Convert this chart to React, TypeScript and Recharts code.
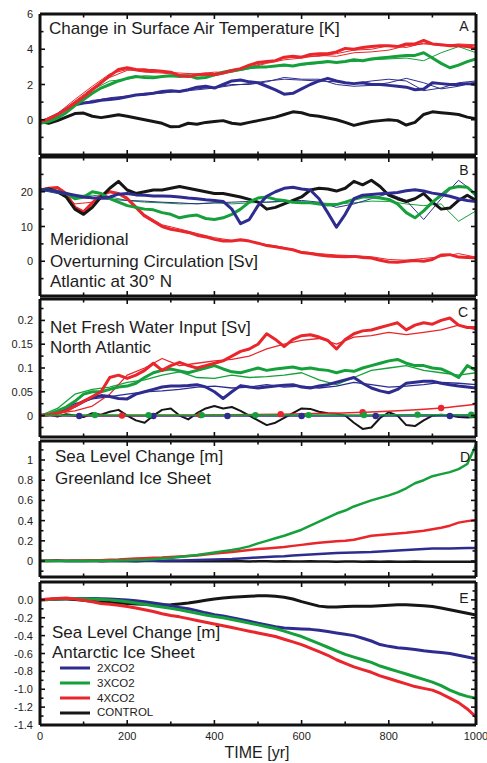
import React from 'react';
import { LineChart, Line, XAxis, YAxis, Legend } from 'recharts';

// ---------- categories / tick labels ----------
const TIME = [0, 20, 40, 60, 80, 100, 120, 140, 160, 180, 200, 220, 240, 260, 280, 300, 320, 340, 360, 380, 400, 420, 440, 460, 480, 500, 520, 540, 560, 580, 600, 620, 640, 660, 680, 700, 720, 740, 760, 780, 800, 820, 840, 860, 880, 900, 920, 940, 960, 980, 1000];
const TIME_THIN = [0, 40, 80, 120, 160, 200, 240, 280, 320, 360, 400, 440, 480, 520, 560, 600, 640, 680, 720, 760, 800, 840, 880, 920, 960, 1000];
const X_TICKS = [0, 100, 200, 300, 400, 500, 600, 700, 800, 900, 1000];
const X_LABELS = [0, 200, 400, 600, 800, 1000];
const SERIES_NAMES = ['2XCO2', '3XCO2', '4XCO2', 'CONTROL'];

// ---------- Panel A: surface air temperature [K] ----------
const A_BLACK = [-0.1, -0.2, -0.05, 0.15, 0.35, 0.38, 0.2, 0.12, 0.2, 0.28, 0.2, 0.1, 0.0, -0.1, -0.2, -0.4, -0.38, -0.2, -0.25, -0.15, -0.1, -0.05, -0.2, -0.25, -0.15, -0.05, 0.05, 0.15, 0.3, 0.45, 0.4, 0.25, 0.2, 0.1, 0.0, -0.15, -0.32, -0.2, -0.1, -0.05, 0.0, -0.05, -0.3, -0.15, 0.3, 0.45, 0.4, 0.35, 0.3, 0.15, 0.05];
const A_RED = [-0.1, 0.05, 0.3, 0.6, 0.95, 1.3, 1.7, 2.1, 2.5, 2.85, 2.95, 2.85, 2.8, 2.8, 2.75, 2.7, 2.5, 2.45, 2.55, 2.6, 2.55, 2.65, 2.8, 2.9, 3.1, 3.25, 3.3, 3.35, 3.55, 3.6, 3.55, 3.7, 3.75, 3.75, 3.85, 4.05, 4.0, 4.1, 4.15, 4.2, 4.2, 4.15, 4.3, 4.3, 4.5, 4.3, 4.25, 4.2, 4.2, 4.15, 4.05];
const A_GREEN = [-0.2, -0.1, 0.1, 0.4, 0.8, 1.15, 1.5, 1.8, 2.0, 2.2, 2.35, 2.45, 2.4, 2.38, 2.45, 2.5, 2.45, 2.5, 2.35, 2.4, 2.55, 2.7, 2.8, 2.85, 2.95, 3.0, 3.0, 3.05, 3.1, 3.05, 3.15, 3.2, 3.25, 3.3, 3.25, 3.3, 3.4, 3.35, 3.45, 3.5, 3.55, 3.6, 3.65, 3.65, 3.8, 3.5, 3.2, 2.95, 3.1, 3.3, 3.45];
const A_BLUE = [-0.1, 0.0, 0.3, 0.6, 0.85, 0.95, 1.0, 1.1, 1.15, 1.2, 1.3, 1.4, 1.45, 1.5, 1.6, 1.65, 1.6, 1.7, 1.85, 1.9, 1.8, 2.0, 2.2, 2.25, 2.15, 2.1, 1.9, 1.7, 1.45, 1.5, 1.75, 2.0, 2.2, 2.35, 2.2, 2.1, 2.05, 2.1, 2.0, 2.0, 1.95, 1.9, 1.85, 1.7, 1.75, 2.1, 2.05, 2.0, 2.0, 2.05, 2.0];
const A_RED_T1 = [-0.1, 0.35, 1.15, 1.9, 2.6, 2.85, 2.7, 2.65, 2.55, 2.5, 2.6, 2.75, 2.95, 3.2, 3.4, 3.5, 3.65, 3.6, 3.8, 3.85, 3.95, 4.2, 4.3, 4.25, 4.25, 4.2];
const A_RED_T2 = [-0.15, 0.3, 1.05, 1.8, 2.4, 2.8, 2.9, 2.7, 2.65, 2.6, 2.7, 2.7, 3.0, 3.25, 3.5, 3.6, 3.6, 3.75, 3.95, 4.0, 4.2, 4.1, 4.35, 4.2, 4.3, 4.25];
const A_GREEN_T = [-0.2, 0.2, 1.0, 1.7, 2.2, 2.3, 2.5, 2.45, 2.55, 2.5, 2.5, 2.7, 2.9, 3.0, 3.05, 3.1, 3.2, 3.3, 3.3, 3.4, 3.45, 3.5, 3.35, 3.8, 4.15, 3.8];
const A_BLUE_T1 = [-0.1, 0.35, 0.9, 1.05, 1.25, 1.35, 1.4, 1.55, 1.6, 1.7, 1.8, 1.95, 2.05, 2.2, 2.3, 2.25, 2.2, 2.15, 2.05, 2.2, 2.3, 2.2, 1.65, 1.8, 2.1, 2.2];
const A_BLUE_T2 = [-0.1, 0.3, 0.8, 1.1, 1.2, 1.3, 1.5, 1.5, 1.65, 1.75, 1.85, 2.0, 2.0, 2.15, 2.4, 2.3, 2.3, 2.0, 1.9, 1.95, 2.1, 2.35, 2.1, 1.75, 1.9, 2.15];

// ---------- Panel B: overturning circulation [Sv] ----------
const B_BLACK = [20.5, 20.8, 20, 18.5, 15, 13.5, 15.5, 18.5, 21, 23, 20.5, 19.5, 20, 20.5, 20.5, 21, 21.5, 21, 20.5, 20, 19.5, 19.5, 19, 18.5, 17.8, 17, 15, 15.5, 16.5, 17.5, 18.5, 20.5, 21, 20.8, 20.2, 21, 23, 22, 23.3, 21.5, 19, 18, 17.2, 18, 19.5, 17, 15, 15.3, 17.5, 19, 17.5];
const B_RED = [20.5, 21, 21.2, 19.5, 15.5, 14.2, 16.8, 19, 20, 19.5, 18, 15.5, 13, 11.5, 10, 9.2, 8.8, 8.3, 7.5, 7, 6.3, 5.8, 5.8, 6.2, 5.8, 5.2, 4.5, 4.2, 3.7, 3.3, 2.5, 2.2, 1.8, 1.5, 1.4, 1.3, 1.4, 1.1, 0.9, 0.3, -0.2, -0.3, 0, 0.2, 0.0, 0.5, 1.8, 1.9, 1.2, 1.1, 1.0];
const B_GREEN = [20.5, 20.5, 20, 19.5, 18, 18.5, 20, 19.5, 18, 17, 16, 15.5, 15, 14.8, 14, 13.5, 12.5, 13, 13.3, 12.3, 12, 12.5, 13.5, 15, 17, 18.2, 18.5, 17.8, 17.5, 17, 16.8, 16.8, 16.5, 16.2, 16.3, 17, 17.8, 18.5, 18.5, 18.2, 17.8, 16.5, 14, 12.5, 14.5, 17, 19, 21, 21.5, 21.3, 19];
const B_BLUE = [20.5, 20.5, 20, 19.5, 19, 18.5, 18.3, 18.2, 18.5, 19.3, 19.5, 19.1, 19, 18.8, 18.8, 18.7, 18.5, 18.2, 18, 17.7, 17.5, 17.2, 15, 10.8, 12, 16, 18.7, 20, 21, 21.3, 20.8, 20.5, 18, 14, 9.8, 13.5, 18, 19, 19.2, 19.4, 19.6, 19.8, 20.3, 20.6, 20.2, 19.6, 19.2, 18.7, 18, 17.5, 17.2];
const B_RED_T = [20.5, 21, 16.5, 17, 20.2, 18.5, 13.5, 10.5, 9.3, 8, 6.8, 6, 5.8, 4.8, 4, 2.8, 2.2, 1.8, 1.6, 1.3, 0.5, 0.3, 0.8, 1.3, 2.2, 1.2];
const B_GREEN_T = [20.5, 20.5, 19, 19, 18.5, 17.5, 17, 16.8, 16.5, 16.6, 16.8, 16.5, 16.8, 17, 17.2, 17, 16.8, 16.5, 16.8, 17.3, 17.2, 16.5, 16, 16.5, 11.5, 14.5];
const B_BLUE_T = [20.5, 19.5, 18.5, 18, 17.8, 17.5, 17.3, 17, 16.8, 16.5, 16.8, 17, 17.2, 17, 17.3, 17.5, 17, 15.5, 16.5, 18, 19.5, 17.5, 12, 18, 23.3, 19.5];

// ---------- Panel C: net fresh water input [Sv] ----------
const C_RED = [0, 0.002, 0.005, 0.01, 0.02, 0.03, 0.04, 0.05, 0.08, 0.085, 0.078, 0.085, 0.095, 0.11, 0.095, 0.105, 0.112, 0.105, 0.1, 0.105, 0.11, 0.115, 0.125, 0.135, 0.14, 0.15, 0.172, 0.16, 0.145, 0.16, 0.168, 0.17, 0.165, 0.158, 0.14, 0.16, 0.172, 0.178, 0.18, 0.185, 0.19, 0.195, 0.18, 0.19, 0.195, 0.192, 0.2, 0.205, 0.19, 0.185, 0.185];
const C_GREEN = [0, 0.003, 0.01, 0.018, 0.03, 0.045, 0.05, 0.05, 0.055, 0.06, 0.062, 0.068, 0.08, 0.09, 0.095, 0.098, 0.094, 0.09, 0.095, 0.1, 0.105, 0.098, 0.092, 0.09, 0.095, 0.1, 0.095, 0.098, 0.1, 0.102, 0.098, 0.1, 0.097, 0.095, 0.09, 0.095, 0.093, 0.1, 0.105, 0.11, 0.115, 0.118, 0.11, 0.105, 0.105, 0.1, 0.098, 0.09, 0.08, 0.105, 0.095];
const C_BLUE = [0, 0.002, 0.005, 0.012, 0.02, 0.03, 0.038, 0.042, 0.04, 0.036, 0.035, 0.045, 0.05, 0.055, 0.06, 0.062, 0.062, 0.063, 0.065, 0.06, 0.05, 0.036, 0.05, 0.063, 0.06, 0.058, 0.06, 0.062, 0.064, 0.065, 0.06, 0.058, 0.062, 0.065, 0.07, 0.075, 0.08, 0.068, 0.058, 0.052, 0.048, 0.055, 0.068, 0.07, 0.072, 0.072, 0.068, 0.065, 0.062, 0.06, 0.058];
const C_BLACK = [0, 0.002, -0.002, 0.003, 0.0, -0.003, 0.005, 0.002, 0.008, 0.012, 0.0, -0.01, -0.015, 0.0, 0.012, 0.015, 0.0, -0.008, 0.005, 0.015, 0.02, 0.015, 0.018, 0.01, 0.0, -0.01, -0.02, -0.015, -0.005, 0.005, 0.015, 0.014, 0.008, 0.005, 0.004, 0.0, -0.015, -0.028, -0.025, -0.005, 0.007, 0.0, -0.02, -0.022, -0.01, 0.0, 0.002, 0.0, -0.003, -0.004, -0.003];
const C_RED_T = [0, 0.005, 0.01, 0.02, 0.045, 0.085, 0.1, 0.12, 0.105, 0.11, 0.115, 0.118, 0.125, 0.14, 0.15, 0.158, 0.162, 0.15, 0.165, 0.168, 0.175, 0.17, 0.175, 0.18, 0.19, 0.18];
const C_GREEN_T = [0, 0.015, 0.045, 0.055, 0.06, 0.07, 0.075, 0.085, 0.092, 0.08, 0.078, 0.085, 0.08, 0.082, 0.085, 0.09, 0.075, 0.065, 0.08, 0.095, 0.1, 0.105, 0.095, 0.09, 0.085, 0.09];
const C_BLUE_T = [0, 0.008, 0.025, 0.035, 0.04, 0.045, 0.05, 0.052, 0.055, 0.06, 0.062, 0.058, 0.06, 0.065, 0.06, 0.062, 0.058, 0.062, 0.07, 0.065, 0.06, 0.062, 0.065, 0.07, 0.068, 0.065];
const C_RED_SM_T = [0, 188, 368, 552, 740, 920, 1000];
const C_RED_SM = [0, 0, 0.001, 0.003, 0.007, 0.016, 0.024];
const C_GREEN_SM_T = [0, 126, 249, 371, 494, 616, 743, 866, 989, 1000];
const C_GREEN_SM = [0, 0.001, 0.001, 0.001, 0.001, 0.001, 0.001, 0.002, 0.002, 0.002];
const C_BLUE_SM_T = [0, 90, 260, 430, 600, 770, 940, 1000];
const C_BLUE_SM = [0, -0.001, -0.001, -0.001, -0.001, -0.001, -0.001, -0.001];

// ---------- Panel D: Greenland sea level change [m] ----------
const D_GREEN = [0, 0, 0, 0, 0, 0, 0.002, 0.003, 0.004, 0.005, 0.007, 0.01, 0.013, 0.018, 0.025, 0.03, 0.04, 0.05, 0.06, 0.072, 0.085, 0.098, 0.11, 0.125, 0.145, 0.175, 0.2, 0.225, 0.25, 0.28, 0.31, 0.35, 0.39, 0.43, 0.47, 0.5, 0.54, 0.57, 0.6, 0.625, 0.65, 0.68, 0.72, 0.77, 0.8, 0.84, 0.86, 0.88, 0.91, 0.96, 1.15];
const D_RED = [0, 0, 0.002, 0.003, 0.004, 0.005, 0.007, 0.009, 0.012, 0.015, 0.02, 0.024, 0.028, 0.032, 0.035, 0.04, 0.045, 0.05, 0.055, 0.065, 0.075, 0.082, 0.09, 0.1, 0.11, 0.118, 0.125, 0.132, 0.14, 0.15, 0.16, 0.17, 0.18, 0.188, 0.195, 0.2, 0.21, 0.23, 0.25, 0.258, 0.265, 0.272, 0.28, 0.29, 0.3, 0.315, 0.33, 0.35, 0.38, 0.395, 0.405];
const D_BLUE = [0, 0, 0, 0, 0, 0, 0, 0, 0, 0, 0.001, 0.001, 0.002, 0.003, 0.004, 0.005, 0.006, 0.008, 0.01, 0.012, 0.015, 0.018, 0.02, 0.025, 0.03, 0.035, 0.04, 0.044, 0.048, 0.054, 0.06, 0.065, 0.07, 0.075, 0.08, 0.083, 0.085, 0.088, 0.09, 0.095, 0.1, 0.105, 0.11, 0.115, 0.12, 0.123, 0.125, 0.125, 0.126, 0.128, 0.13];
const D_BLACK = [0.004, 0.002, 0.005, 0.001, 0.003, 0.0, 0.002, -0.001, 0.001, 0.002, 0.0, -0.002, 0.001, 0.0, -0.001, 0.001, -0.002, 0.0, -0.001, -0.003, -0.002, -0.001, -0.003, -0.002, -0.004, -0.003, -0.002, -0.004, -0.003, -0.005, -0.004, -0.003, -0.005, -0.004, -0.006, -0.005, -0.004, -0.006, -0.005, -0.006, -0.005, -0.007, -0.006, -0.005, -0.007, -0.006, -0.008, -0.006, -0.007, -0.008, -0.007];

// ---------- Panel E: Antarctic sea level change [m] ----------
const E_BLACK = [0, 0.005, 0.01, 0.01, 0.005, -0.005, -0.015, -0.025, -0.03, -0.035, -0.04, -0.045, -0.05, -0.055, -0.06, -0.055, -0.045, -0.035, -0.02, -0.005, 0.01, 0.02, 0.03, 0.035, 0.04, 0.045, 0.045, 0.04, 0.03, 0.01, -0.02, -0.045, -0.07, -0.08, -0.08, -0.075, -0.07, -0.07, -0.07, -0.065, -0.06, -0.055, -0.055, -0.06, -0.065, -0.075, -0.09, -0.11, -0.13, -0.15, -0.17];
const E_BLUE = [0, 0.005, 0.01, 0.015, 0.015, 0.015, 0.015, 0.012, 0.01, 0.005, 0.0, -0.01, -0.02, -0.035, -0.05, -0.065, -0.085, -0.1, -0.12, -0.145, -0.165, -0.18, -0.2, -0.22, -0.24, -0.26, -0.28, -0.3, -0.315, -0.32, -0.325, -0.33, -0.34, -0.355, -0.37, -0.385, -0.4, -0.43, -0.46, -0.5, -0.52, -0.535, -0.545, -0.555, -0.57, -0.58, -0.59, -0.6, -0.62, -0.64, -0.66];
const E_GREEN = [0, 0.005, 0.01, 0.015, 0.015, 0.012, 0.01, 0.005, 0.0, -0.01, -0.02, -0.035, -0.05, -0.065, -0.08, -0.095, -0.11, -0.13, -0.15, -0.17, -0.185, -0.2, -0.22, -0.24, -0.26, -0.28, -0.3, -0.32, -0.35, -0.38, -0.41, -0.45, -0.49, -0.53, -0.57, -0.61, -0.64, -0.67, -0.7, -0.74, -0.77, -0.8, -0.83, -0.86, -0.89, -0.92, -0.96, -1.01, -1.05, -1.08, -1.1];
const E_RED = [0, 0.01, 0.015, 0.02, 0.01, -0.005, -0.02, -0.04, -0.05, -0.06, -0.075, -0.09, -0.11, -0.13, -0.155, -0.175, -0.19, -0.21, -0.23, -0.25, -0.27, -0.29, -0.31, -0.33, -0.35, -0.37, -0.39, -0.41, -0.44, -0.47, -0.5, -0.54, -0.58, -0.62, -0.67, -0.71, -0.75, -0.78, -0.81, -0.85, -0.88, -0.91, -0.94, -0.97, -0.99, -1.01, -1.05, -1.1, -1.15, -1.22, -1.31];

// ---------- style constants ----------
const W = 487;
const RED = '#e8262b';
const GREEN = '#15a03b';
const BLUE = '#2e2d8f';
const BLACK = '#161616';
const INK = '#1c1c1c';
const FONT = '"Liberation Sans", Arial, Helvetica, sans-serif';
const AXIS = { stroke: '#111', strokeWidth: 3 };
const PLOT_LEFT = 40;
const PLOT_RIGHT = 476;

const near = (a: number, b: number) => Math.abs(a - b) < 1e-9;

const pair = (ts: number[], vs: number[]) => ts.map((t, i) => ({ t, v: vs[i] }));
const table = (cols: Record<string, number[]>) =>
  TIME.map((t, i) => {
    const row: any = { t };
    Object.keys(cols).forEach((k) => (row[k] = cols[k][i]));
    return row;
  });

function LeftTick(props: any) {
  const { y, payload, labels, fmt } = props;
  const x = PLOT_LEFT;
  const v = payload.value;
  const lab = labels.some((l: number) => near(l, v));
  return (
    <g>
      <line x1={x} x2={x + (lab ? 5 : 3.5)} y1={y} y2={y} stroke="#111" strokeWidth={1.6} />
      {lab && (
        <text x={x - 7} y={y} dy={4} textAnchor="end" fontSize={11} fontFamily={FONT} fill={INK}>
          {fmt(v)}
        </text>
      )}
    </g>
  );
}
function RightTick(props: any) {
  const { y, payload, labels } = props;
  const x = PLOT_RIGHT;
  const lab = labels.some((l: number) => near(l, payload.value));
  return <line x1={x} x2={x - (lab ? 5 : 3.5)} y1={y} y2={y} stroke="#111" strokeWidth={1.6} />;
}
function BottomTick(props: any) {
  const { x, payload, showLabel, plotBottom } = props;
  const y = plotBottom;
  const v = payload.value;
  const major = X_LABELS.includes(v);
  return (
    <g>
      <line x1={x} x2={x} y1={y} y2={y - (major ? 5 : 3.5)} stroke="#111" strokeWidth={1.6} />
      {showLabel && major && (
        <text x={x} y={y + 15} textAnchor="middle" fontSize={11} fontFamily={FONT} fill={INK}>
          {v}
        </text>
      )}
    </g>
  );
}
function TopTick(props: any) {
  const { x, payload, plotTop } = props;
  const y = plotTop;
  const major = X_LABELS.includes(payload.value);
  return <line x1={x} x2={x} y1={y} y2={y + (major ? 5 : 3.5)} stroke="#111" strokeWidth={1.6} />;
}

type Spec = {
  key: string;
  color: string;
  width: number;
  data?: { t: number; v: number }[];
  name?: string;
  dots?: boolean;
};

function LegendBox(props: any) {
  const items = [...(props.payload || [])]
    .filter((p: any) => SERIES_NAMES.includes(p.value))
    .sort((a: any, b: any) => SERIES_NAMES.indexOf(a.value) - SERIES_NAMES.indexOf(b.value));
  return (
    <div style={{ fontFamily: FONT, fontSize: 11.5, color: INK }}>
      {items.map((p: any) => (
        <div key={p.value} style={{ display: 'flex', alignItems: 'center', height: 14.8 }}>
          <svg width={30} height={6} style={{ display: 'block' }}>
            <line x1={0} x2={30} y1={3} y2={3} stroke={p.color} strokeWidth={3} />
          </svg>
          <span style={{ marginLeft: 7, lineHeight: '14.8px' }}>{p.value}</span>
        </div>
      ))}
    </div>
  );
}

function Panel(props: {
  top: number;
  height: number;
  domain: [number, number];
  yTicks: number[];
  yLabels: number[];
  fmt: (v: number) => string;
  rows: any[];
  lines: Spec[];
  showX?: boolean;
  legend?: boolean;
}) {
  const { top, height, domain, yTicks, yLabels, fmt, rows, lines, showX, legend } = props;
  const mTop = 10;
  const mBottom = showX ? 40 : 10;
  // local (svg) coordinates of the plot frame
  const plotTop = mTop;
  const plotBottom = mTop + height;
  return (
    <div style={{ position: 'absolute', left: 0, top: top - mTop }}>
      <LineChart
        width={W}
        height={height + mTop + mBottom}
        data={rows}
        margin={{ top: mTop - 1, right: W - PLOT_RIGHT - 1, bottom: mBottom - 1, left: PLOT_LEFT - 1 }}
      >
        <XAxis
          xAxisId="b"
          dataKey="t"
          type="number"
          domain={[0, 1000]}
          ticks={X_TICKS}
          interval={0}
          height={1}
          tickSize={0}
          tickMargin={0}
          tickLine={false}
          axisLine={AXIS}
          allowDataOverflow
          tick={(p: any) => <BottomTick {...p} showLabel={!!showX} plotBottom={plotBottom} />}
        />
        <XAxis
          xAxisId="t"
          orientation="top"
          dataKey="t"
          type="number"
          domain={[0, 1000]}
          ticks={X_TICKS}
          interval={0}
          height={1}
          tickSize={0}
          tickMargin={0}
          tickLine={false}
          axisLine={AXIS}
          allowDataOverflow
          tick={(p: any) => <TopTick {...p} plotTop={plotTop} />}
        />
        <YAxis
          yAxisId="l"
          type="number"
          domain={domain}
          ticks={yTicks}
          interval={0}
          width={1}
          tickSize={0}
          tickMargin={0}
          tickLine={false}
          axisLine={AXIS}
          allowDataOverflow
          tick={(p: any) => <LeftTick {...p} labels={yLabels} fmt={fmt} />}
        />
        <YAxis
          yAxisId="r"
          orientation="right"
          type="number"
          domain={domain}
          ticks={yTicks}
          interval={0}
          width={1}
          tickSize={0}
          tickMargin={0}
          tickLine={false}
          axisLine={AXIS}
          allowDataOverflow
          tick={(p: any) => <RightTick {...p} labels={yLabels} />}
        />
        {lines.map((s) => (
          <Line
            key={s.key}
            xAxisId="b"
            yAxisId="l"
            data={s.data}
            dataKey={s.data ? 'v' : s.key}
            name={s.name || s.key}
            type={s.dots ? 'monotone' : 'linear'}
            stroke={s.color}
            strokeWidth={s.width}
            strokeLinejoin="round"
            legendType={s.name ? 'line' : 'none'}
            dot={
              s.dots
                ? (d: any) =>
                    d.index > 0 && d.index < (s.data ? s.data.length - 1 : 0) ? (
                      <circle key={`${s.key}-${d.index}`} cx={d.cx} cy={d.cy} r={3.2} fill={s.color} stroke="none" />
                    ) : (
                      <g key={`${s.key}-${d.index}`} />
                    )
                : false
            }
            isAnimationActive={false}
          />
        ))}
        {legend && (
          <Legend
            layout="vertical"
            align="center"
            verticalAlign="middle"
            wrapperStyle={{ left: 60, top: 89, width: 110, height: 60 }}
            content={(p: any) => <LegendBox {...p} />}
          />
        )}
      </LineChart>
    </div>
  );
}

const fmtInt = (v: number) => String(v);
const fmtOne = (v: number) => v.toFixed(1);
const fmtC = (v: number) => (near(v, 0) ? '0' : String(Number(v.toFixed(3))));
const fmtD = (v: number) => (near(v, 0) ? '0' : String(Number(v.toFixed(2))));

export default function App() {
  const rowsA = table({ black: A_BLACK, red: A_RED, green: A_GREEN, blue: A_BLUE });
  const rowsB = table({ black: B_BLACK, red: B_RED, green: B_GREEN, blue: B_BLUE });
  const rowsC = table({ black: C_BLACK, red: C_RED, green: C_GREEN, blue: C_BLUE });
  const rowsD = table({ black: D_BLACK, red: D_RED, green: D_GREEN, blue: D_BLUE });
  const rowsE = table({ black: E_BLACK, red: E_RED, green: E_GREEN, blue: E_BLUE });

  const txt = { fontFamily: FONT, fill: INK };

  return (
    <div style={{ position: 'absolute', left: 0, top: 0, width: W, height: 763, background: '#fff', overflow: 'hidden' }}>
      <Panel
        top={14}
        height={141}
        domain={[-2, 6]}
        yTicks={[-2, -1, 0, 1, 2, 3, 4, 5, 6]}
        yLabels={[0, 2, 4, 6]}
        fmt={fmtInt}
        rows={rowsA}
        lines={[
          { key: 'bt1', color: BLUE, width: 1, data: pair(TIME_THIN, A_BLUE_T1) },
          { key: 'bt2', color: BLUE, width: 1, data: pair(TIME_THIN, A_BLUE_T2) },
          { key: 'gt', color: GREEN, width: 1, data: pair(TIME_THIN, A_GREEN_T) },
          { key: 'rt1', color: RED, width: 1, data: pair(TIME_THIN, A_RED_T1) },
          { key: 'rt2', color: RED, width: 1, data: pair(TIME_THIN, A_RED_T2) },
          { key: 'black', color: BLACK, width: 3 },
          { key: 'blue', color: BLUE, width: 3 },
          { key: 'green', color: GREEN, width: 3 },
          { key: 'red', color: RED, width: 3 },
        ]}
      />
      <Panel
        top={157}
        height={139}
        domain={[-10, 30]}
        yTicks={[-10, -5, 0, 5, 10, 15, 20, 25, 30]}
        yLabels={[0, 10, 20]}
        fmt={fmtInt}
        rows={rowsB}
        lines={[
          { key: 'rt', color: RED, width: 1, data: pair(TIME_THIN, B_RED_T) },
          { key: 'gt', color: GREEN, width: 1, data: pair(TIME_THIN, B_GREEN_T) },
          { key: 'bt', color: BLUE, width: 1, data: pair(TIME_THIN, B_BLUE_T) },
          { key: 'red', color: RED, width: 3 },
          { key: 'black', color: BLACK, width: 3 },
          { key: 'green', color: GREEN, width: 3 },
          { key: 'blue', color: BLUE, width: 3 },
        ]}
      />
      <Panel
        top={299}
        height={138}
        domain={[-0.045, 0.245]}
        yTicks={[-0.025, 0, 0.025, 0.05, 0.075, 0.1, 0.125, 0.15, 0.175, 0.2, 0.225]}
        yLabels={[0, 0.05, 0.1, 0.15, 0.2]}
        fmt={fmtC}
        rows={rowsC}
        lines={[
          { key: 'black', color: BLACK, width: 2 },
          { key: 'bt', color: BLUE, width: 1.3, data: pair(TIME_THIN, C_BLUE_T) },
          { key: 'gt', color: GREEN, width: 1.3, data: pair(TIME_THIN, C_GREEN_T) },
          { key: 'rt', color: RED, width: 1.3, data: pair(TIME_THIN, C_RED_T) },
          { key: 'blue', color: BLUE, width: 3 },
          { key: 'green', color: GREEN, width: 3 },
          { key: 'red', color: RED, width: 3 },
          { key: 'bsm', color: BLUE, width: 1.5, data: pair(C_BLUE_SM_T, C_BLUE_SM), dots: true },
          { key: 'rsm', color: RED, width: 1.5, data: pair(C_RED_SM_T, C_RED_SM), dots: true },
          { key: 'gsm', color: GREEN, width: 1.5, data: pair(C_GREEN_SM_T, C_GREEN_SM), dots: true },
        ]}
      />
      <Panel
        top={441}
        height={136}
        domain={[-0.158, 1.188]}
        yTicks={[-0.1, 0, 0.1, 0.2, 0.3, 0.4, 0.5, 0.6, 0.7, 0.8, 0.9, 1.0, 1.1]}
        yLabels={[0, 0.2, 0.4, 0.6, 0.8, 1.0]}
        fmt={fmtD}
        rows={rowsD}
        lines={[
          { key: 'black', color: BLACK, width: 2.5 },
          { key: 'blue', color: BLUE, width: 2.5 },
          { key: 'red', color: RED, width: 2.5 },
          { key: 'green', color: GREEN, width: 2.5 },
        ]}
      />
      <Panel
        top={582}
        height={143}
        domain={[-1.4, 0.2]}
        yTicks={[-1.4, -1.3, -1.2, -1.1, -1.0, -0.9, -0.8, -0.7, -0.6, -0.5, -0.4, -0.3, -0.2, -0.1, 0, 0.1, 0.2]}
        yLabels={[-1.4, -1.2, -1.0, -0.8, -0.6, -0.4, -0.2, 0]}
        fmt={fmtOne}
        rows={rowsE}
        showX
        legend
        lines={[
          { key: 'black', color: BLACK, width: 3, name: 'CONTROL' },
          { key: 'blue', color: BLUE, width: 3, name: '2XCO2' },
          { key: 'green', color: GREEN, width: 3, name: '3XCO2' },
          { key: 'red', color: RED, width: 3, name: '4XCO2' },
        ]}
      />
      <svg width={W} height={763} style={{ position: 'absolute', left: 0, top: 0, pointerEvents: 'none' }}>
        <g {...txt} fontSize={17}>
          <text x={49} y={34}>Change in Surface Air Temperature [K]</text>
          <text x={50} y={245}>Meridional</text>
          <text x={50} y={267}>Overturning Circulation [Sv]</text>
          <text x={50} y={287}>Atlantic at 30° N</text>
          <text x={50} y={333}>Net Fresh Water Input [Sv]</text>
          <text x={50} y={353}>North Atlantic</text>
          <text x={55} y={462}>Sea Level Change [m]</text>
          <text x={55} y={484}>Greenland Ice Sheet</text>
          <text x={52} y={638}>Sea Level Change [m]</text>
          <text x={52} y={658}>Antarctic Ice Sheet</text>
        </g>
        <g {...txt} fontSize={14} textAnchor="middle">
          <text x={464} y={31}>A</text>
          <text x={464} y={175}>B</text>
          <text x={463} y={317}>C</text>
          <text x={465} y={462}>D</text>
          <text x={464} y={603}>E</text>
        </g>
        <text x={257} y={758} textAnchor="middle" fontSize={16} {...txt}>TIME [yr]</text>
      </svg>
    </div>
  );
}
